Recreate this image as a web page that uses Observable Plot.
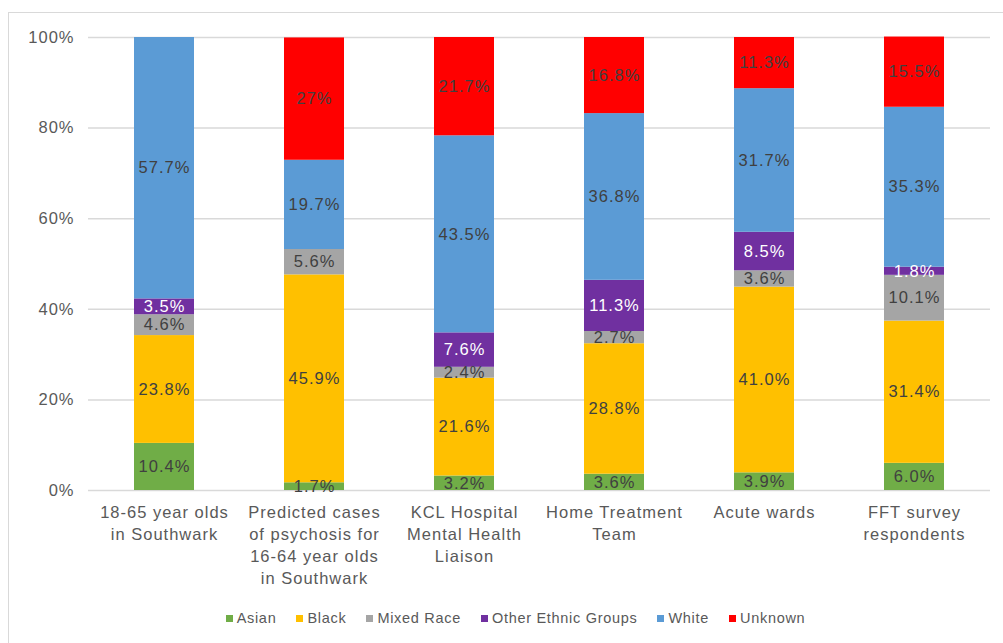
<!DOCTYPE html>
<html>
<head>
<meta charset="utf-8">
<script src="https://cdn.jsdelivr.net/npm/d3@7"></script>
<script src="https://cdn.jsdelivr.net/npm/@observablehq/plot@0.6"></script>
<style>
  body { margin: 0; background: #fff; font-family: "Liberation Sans", Arial, sans-serif; overflow: hidden; }
  #frame { position: absolute; left: 8px; top: 12px; width: 1100px; height: 700px; border: 1px solid #d9d9d9; box-sizing: border-box; }
  #chart { position: absolute; left: 0; top: 0; }
  #legend { position: absolute; left: 0; top: 610px; width: 1031px; display: flex; justify-content: center; gap: 20px; font-size: 14.5px; letter-spacing: 0.7px; color: #595959; }
  #legend .item { display: flex; align-items: center; }
  #legend .sw { width: 7px; height: 7px; margin-right: 4px; }
</style>
</head>
<body>
<div id="frame"></div>
<div id="chart"></div>
<div id="legend"></div>
<script>
const categories = [
  "18-65 year olds\nin Southwark",
  "Predicted cases\nof psychosis for\n16-64 year olds\nin Southwark",
  "KCL Hospital\nMental Health\nLiaison",
  "Home Treatment\nTeam",
  "Acute wards",
  "FFT survey\nrespondents"
];
const groups = ["Asian", "Black", "Mixed Race", "Other Ethnic Groups", "White", "Unknown"];
const colors = ["#70ad47", "#ffc000", "#a5a5a5", "#7030a0", "#5b9bd5", "#ff0000"];
// values as displayed labels, one array per series (order matches categories)
const asian   = ["10.4", "1.7", "3.2", "3.6", "3.9", "6.0"];
const black   = ["23.8", "45.9", "21.6", "28.8", "41.0", "31.4"];
const mixed   = ["4.6", "5.6", "2.4", "2.7", "3.6", "10.1"];
const other   = ["3.5", "0", "7.6", "11.3", "8.5", "1.8"];
const white   = ["57.7", "19.7", "43.5", "36.8", "31.7", "35.3"];
const unknown = ["0", "27", "21.7", "16.8", "11.3", "15.5"];
const yTicks = [0, 20, 40, 60, 80, 100];

const seriesVals = [asian, black, mixed, other, white, unknown];
const data = [];
categories.forEach((c, i) => {
  groups.forEach((g, j) => {
    const s = seriesVals[j][i];
    data.push({cat: c, group: g, value: +s, label: s + "%"});
  });
});

const chart = Plot.plot({
  width: 1003,
  height: 600,
  marginLeft: 88,
  marginRight: 13,
  marginTop: 37,
  marginBottom: 110,
  style: {fontFamily: "'Liberation Sans', Arial, sans-serif", background: "transparent", letterSpacing: "1px"},
  x: {domain: categories, paddingInner: 0.6, paddingOuter: 0.3, label: null},
  y: {domain: [0, 100], label: null},
  color: {domain: groups, range: colors},
  marks: [
    Plot.ruleY(yTicks, {stroke: "#d9d9d9", strokeWidth: 1.5}),
    Plot.barY(data, {x: "cat", y: "value", fill: "group", order: groups}),
    Plot.text(data, Plot.stackY({
      x: "cat", y: "value", z: "group", order: groups,
      text: d => d.value > 0 ? d.label : "",
      fill: d => d.group === "Other Ethnic Groups" ? "#ffffff" : "#404040",
      fontSize: 16.5
    })),
    Plot.axisY(yTicks, {tickSize: 0, tickPadding: 14, tickFormat: d => d + "%", fontSize: 16.5, color: "#595959", label: null}),
    Plot.axisX({tickSize: 0, tickPadding: 12, fontSize: 16.5, color: "#595959", lineHeight: 1.33, lineAnchor: "top", label: null})
  ]
});
document.getElementById("chart").appendChild(chart);

const legend = document.getElementById("legend");
groups.forEach((g, i) => {
  const it = document.createElement("div");
  it.className = "item";
  const sw = document.createElement("span");
  sw.className = "sw";
  sw.style.background = colors[i];
  const t = document.createElement("span");
  t.textContent = g;
  it.appendChild(sw); it.appendChild(t);
  legend.appendChild(it);
});
</script>
</body>
</html>
